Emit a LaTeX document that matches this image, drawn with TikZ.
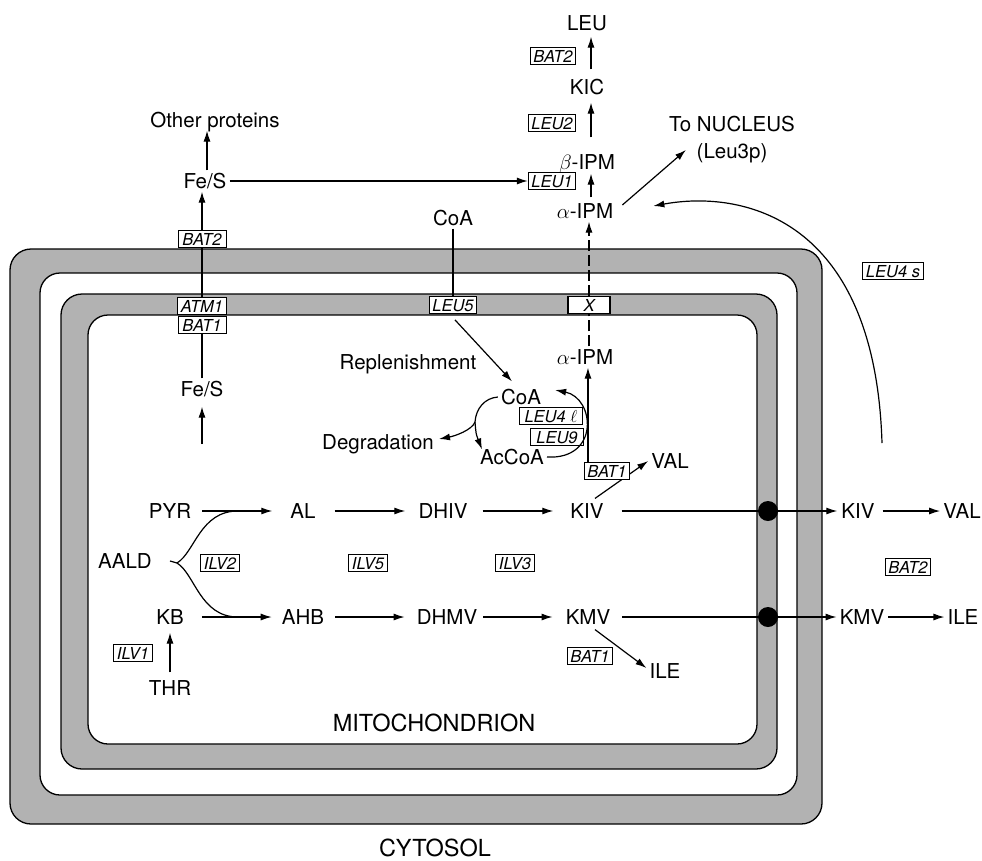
\documentclass[tikz,border=0pt]{standalone}
\usepackage{fontspec}
\setmainfont{TeX Gyre Heros}
\usetikzlibrary{arrows.meta,calc}
\begin{document}
\begin{tikzpicture}[x=1pt,y=-1pt,
  lab/.style={inner sep=3pt,text height=14.8pt,text depth=0pt,font=\fontsize{20.5}{24}\selectfont},
  bigtext/.style={inner sep=3pt,font=\fontsize{23.5}{28}\selectfont},
  gene/.style={draw,fill=white,line width=1pt,inner xsep=3pt,inner ysep=2.4pt,text height=12pt,text depth=0pt,font=\fontsize{16.5}{18}\selectfont\itshape},
  ln/.style={line width=1.2pt},
  arr/.style={line width=1.2pt,-{Latex[length=11pt,width=7pt]}},
  memb/.style={fill=black!30,draw=black,line width=1.3pt,rounded corners=21pt},
  hole/.style={fill=white,draw=black,line width=1.3pt,rounded corners=20pt},
  bigdot/.style={circle,fill=black,minimum size=20pt,inner sep=0pt},
  dashl/.style={dash pattern=on 11pt off 4pt},
]
\useasboundingbox (0,0) rectangle (982,860);
% membranes
\draw[memb] (10,249) rectangle (822,824);
\draw[hole] (40,273) rectangle (797,795);
\draw[memb] (61,294) rectangle (777,769);
\draw[hole] (88,315) rectangle (757,744);

% labels
\node[lab] (LEU) at (587,23) {LEU};
\node[lab] (KIC) at (587,87) {KIC};
\node[lab] (bIPM) at (587,162) {$\beta$-IPM};
\node[lab] (aIPMo) at (585,211) {$\alpha$-IPM};
\node[inner sep=2pt,align=center,font=\fontsize{20.5}{27}\selectfont] (nuc) at (732,140) {To NUCLEUS\\(Leu3p)};
\node[lab] (CoAo) at (453,218) {CoA};
\node[lab] (other) at (215,120) {Other proteins};
\node[lab] (FeSo) at (205,181) {Fe/S};
\node[lab] (FeSi) at (202,389) {Fe/S};
\node[lab] (aIPMi) at (585,357) {$\alpha$-IPM};
\node[lab] (repl) at (408,362) {Replenishment};
\node[lab] (CoAi) at (521,397) {CoA};
\node[lab] (degr) at (378,442) {Degradation};
\node[lab] (AcCoA) at (512,457) {AcCoA};
\node[lab] (VALi) at (670,461) {VAL};
\node[lab] (PYR) at (170,511) {PYR};
\node[lab] (AL) at (303,511) {AL};
\node[lab] (DHIV) at (443,511) {DHIV};
\node[lab] (KIV) at (587,511) {KIV};
\node[lab] (KIVo) at (858,511) {KIV};
\node[lab] (VALo) at (962,511) {VAL};
\node[lab] (AALD) at (125,561) {AALD};
\node[lab] (KB) at (170,617) {KB};
\node[lab] (AHB) at (303,617) {AHB};
\node[lab] (DHMV) at (447,617) {DHMV};
\node[lab] (KMV) at (588,617) {KMV};
\node[lab] (KMVo) at (862,617) {KMV};
\node[lab] (ILEo) at (963,617) {ILE};
\node[lab] (ILEi) at (665,671) {ILE};
\node[lab] (THR) at (170,688) {THR};
\node[bigtext] (mito) at (434,723) {MITOCHONDRION};
\node[bigtext] (cyto) at (435,848) {CYTOSOL};

% gene boxes
\node[gene] (gBAT2t) at (553,56) {BAT2};
\node[gene] (gLEU2) at (552,123) {LEU2};
\node[gene] (gLEU1) at (552,181) {LEU1};
\node[gene,minimum width=48pt] (gBAT2l) at (202,239) {BAT2};
\node[gene,minimum width=48pt] (gATM1) at (202,306) {ATM1};
\node[gene,minimum width=48pt] (gBAT1l) at (202,325) {BAT1};
\node[gene] (gLEU5) at (453,305) {LEU5};
\node[gene,minimum width=42pt,line width=1.5pt] (gX) at (589,305) {X};
\node[gene] (gLEU4s) at (893,271) {LEU4 s};
\node[gene,minimum width=63pt] (gLEU4l) at (551,416) {LEU4 $\ell$};
\node[gene,minimum width=53pt] (gLEU9) at (557,437) {LEU9};
\node[gene] (gILV2) at (220,563) {ILV2};
\node[gene] (gILV5) at (368,563) {ILV5};
\node[gene] (gILV3) at (515,563) {ILV3};
\node[gene] (gBAT2r) at (908,567) {BAT2};
\node[gene] (gBAT1b) at (590,656) {BAT1};
\node[gene] (gILV1) at (133,653) {ILV1};

% leucine chain outside
\draw[arr,shorten <=7pt,shorten >=3pt] ([xshift=4pt]KIC.north) -- ([xshift=4pt]LEU.south);
\draw[arr,shorten <=14pt,shorten >=5pt] ([xshift=4pt]bIPM.north) -- ([xshift=4pt]KIC.south);
\draw[arr,shorten <=3pt,shorten >=1pt] ([xshift=6pt]aIPMo.north) -- ([xshift=4pt]bIPM.south);
\draw[arr] ($(aIPMo.east)+(6,-6)$) -- ($(nuc.west)+(19,10)$);
\coordinate (arcS) at (882,443);
\draw[arr] (arcS) .. controls (875,215) and (740,190) .. ($(aIPMo.east)+(37,-5)$);

% Fe/S
\draw[arr] (FeSo.east) -- (gLEU1.west);
\draw[arr] ([xshift=2pt]FeSo.north) -- ([xshift=-8pt]other.south);
\draw[arr] (gBAT2l.north) -- ([xshift=-3pt]FeSo.south);
\draw[ln] (gBAT2l.south) -- (gATM1.north);
\draw[ln] (FeSi.north) -- (gBAT1l.south);
\coordinate (feIn) at (202,444);
\draw[arr,shorten >=7pt] (feIn) -- (FeSi.south);

% CoA
\draw[ln] (CoAo.south) -- (gLEU5.north);
\draw[arr] ($(gLEU5.south)+(2,6)$) -- ($(CoAi.north)+(-9,-5)$);
\coordinate (fk) at (475,422);
\draw[ln] (CoAi.west) .. controls (485,398) and (476,408) .. (fk);
\draw[arr] (fk) .. controls (472,430) and (455,436) .. ($(degr.east)+(2,-3)$);
\draw[arr] (fk) .. controls (476,434) .. ($(AcCoA.north west)+(5,3)$);
\draw[arr] (AcCoA.east) .. controls (600,460) and (595,398) .. ($(CoAi.east)+(11,-7)$);

% alpha-IPM transport
\draw[ln,dashl] (aIPMi.north -| gX) -- (gX.south);
\draw[arr,dashl] (gX.north) -- (gX |- aIPMo.south);

% KIV to VAL via BAT1
\draw[arr] ($(KIV.north)+(8,-2)$) -- (VALi.west);
\node[gene] (gBAT1a) at (607,471) {BAT1};
\draw[arr] ([xshift=4pt]gBAT1a.north west) -- ([xshift=4pt]gBAT1a.north west |- aIPMi.south);

% main rows
\coordinate (af) at (177,563);
\coordinate (j1) at (238,511);
\coordinate (j2) at (238,617);
\draw[ln] (AALD.east) ++(15,0) -- (af);
\draw[ln] (af) .. controls (195,552) and (200,511) .. (j1);
\draw[ln] (af) .. controls (195,574) and (200,617) .. (j2);
\draw[arr,shorten <=8pt,shorten >=15pt] (PYR.east) -- (AL.west);
\draw[arr,shorten <=16pt,shorten >=10pt] (AL.east) -- (DHIV.west);
\draw[arr,shorten <=12pt,shorten >=14pt] (DHIV.east) -- (KIV.west);
\draw[arr,shorten <=15pt,shorten >=7pt] (KB.east) -- (AHB.west);
\draw[arr,shorten <=8pt,shorten >=9pt] (AHB.east) -- (DHMV.west);
\draw[arr,shorten <=3pt,shorten >=10pt] (DHMV.east) -- (KMV.west);
\draw[arr,shorten <=5pt,shorten >=5pt] (THR.north) -- (KB.south);

\draw[arr,shorten <=15pt,shorten >=1pt] (KIV.east) -- (KIVo.west);
\draw[arr,shorten <=5pt] (KIVo.east) -- (VALo.west);
\draw[arr,shorten <=9pt] (KMV.east) -- (KMVo.west);
\draw[arr,shorten <=1pt] (KMVo.east) -- (ILEo.west);
\node[bigdot] (d1) at (768,511) {};
\node[bigdot] (d2) at (768,617) {};
\draw[arr] ($(KMV.south)+(7,2)$) -- ($(ILEi.west)+(0,-3)$);
\end{tikzpicture}
\end{document}
